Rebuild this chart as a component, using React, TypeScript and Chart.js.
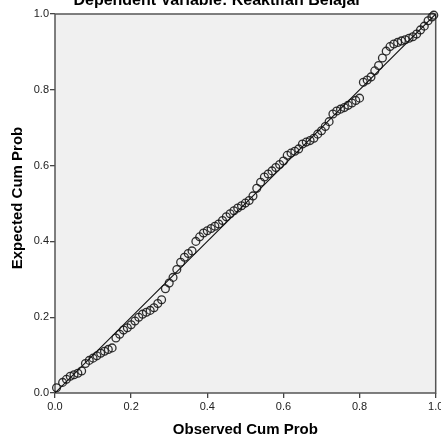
import React, { useEffect, useRef } from "react";
import { Chart, registerables } from "chart.js";

Chart.register(...registerables);

const chartTitle = "Dependent Variable: Keaktifan Belajar";
const xAxisTitle = "Observed Cum Prob";
const yAxisTitle = "Expected Cum Prob";
const tickValues = [0, 0.2, 0.4, 0.6, 0.8, 1.0];

const observedCumProb = [
  0.004, 0.02, 0.03, 0.04, 0.05, 0.06, 0.07, 0.08, 0.09, 0.1,
  0.11, 0.12, 0.13, 0.14, 0.15, 0.16, 0.17, 0.18, 0.19, 0.2,
  0.21, 0.22, 0.23, 0.24, 0.25, 0.26, 0.27, 0.28, 0.29, 0.3,
  0.31, 0.32, 0.33, 0.34, 0.35, 0.36, 0.37, 0.38, 0.39, 0.4,
  0.41, 0.42, 0.43, 0.44, 0.45, 0.46, 0.47, 0.48, 0.49, 0.5,
  0.51, 0.52, 0.53, 0.54, 0.55, 0.56, 0.57, 0.58, 0.59, 0.6,
  0.61, 0.62, 0.63, 0.64, 0.65, 0.66, 0.67, 0.68, 0.69, 0.7,
  0.71, 0.72, 0.73, 0.74, 0.75, 0.76, 0.77, 0.78, 0.79, 0.8,
  0.81, 0.82, 0.83, 0.84, 0.85, 0.86, 0.87, 0.88, 0.89, 0.9,
  0.91, 0.92, 0.93, 0.94, 0.95, 0.96, 0.97, 0.98, 0.99, 0.995,
];

const expectedCumProb = [
  0.014, 0.028, 0.036, 0.044, 0.048, 0.052, 0.058, 0.078, 0.086, 0.092,
  0.098, 0.105, 0.11, 0.115, 0.119, 0.145, 0.155, 0.166, 0.172, 0.18,
  0.19, 0.2, 0.208, 0.213, 0.218, 0.225, 0.236, 0.246, 0.275, 0.29,
  0.305, 0.326, 0.345, 0.358, 0.368, 0.375, 0.4, 0.412, 0.422, 0.428,
  0.434, 0.44, 0.446, 0.455, 0.465, 0.473, 0.481, 0.488, 0.494, 0.501,
  0.508, 0.52, 0.54, 0.556, 0.57, 0.578, 0.586, 0.595, 0.603, 0.612,
  0.627, 0.633, 0.638, 0.644, 0.657, 0.662, 0.666, 0.672, 0.683, 0.692,
  0.703, 0.716, 0.736, 0.744, 0.749, 0.753, 0.759, 0.765, 0.772, 0.778,
  0.82, 0.826, 0.834, 0.85, 0.864, 0.884, 0.902, 0.914, 0.921, 0.925,
  0.929, 0.932, 0.936, 0.94, 0.947, 0.958, 0.968, 0.982, 0.992, 0.997,
];

const referenceLine = [0, 1];

const FONT = "'Liberation Sans', Arial, sans-serif";

const plotFramePlugin = {
  id: "plotFrame",
  beforeDraw(chart: any) {
    const { ctx, chartArea } = chart;
    ctx.save();
    ctx.fillStyle = "#f0f0f0";
    ctx.fillRect(chartArea.left, chartArea.top, chartArea.right - chartArea.left, chartArea.bottom - chartArea.top);
    ctx.restore();
  },
  beforeDatasetsDraw(chart: any) {
    const { ctx, chartArea } = chart;
    ctx.save();
    ctx.strokeStyle = "#555555";
    ctx.lineWidth = 1.5;
    ctx.strokeRect(chartArea.left, chartArea.top, chartArea.right - chartArea.left, chartArea.bottom - chartArea.top);
    ctx.restore();
  },
  afterDraw(chart: any) {
    const { ctx, chartArea } = chart;
    ctx.save();
    ctx.fillStyle = "#000";
    ctx.font = `bold 16px ${FONT}`;
    ctx.textAlign = "center";
    ctx.textBaseline = "alphabetic";
    ctx.fillText(chartTitle, chart.width / 2 - 3, 5);
    ctx.font = `bold 15px ${FONT}`;
    ctx.translate(17.5, 198);
    ctx.rotate(-Math.PI / 2);
    ctx.textBaseline = "middle";
    ctx.fillText(yAxisTitle, 0, 0);
    ctx.restore();
  },
};

export default function App() {
  const ref = useRef<HTMLCanvasElement | null>(null);

  useEffect(() => {
    if (!ref.current) return;
    const points = observedCumProb.map((x, i) => ({ x, y: expectedCumProb[i] }));
    const line = referenceLine.map((v) => ({ x: v, y: v }));
    const chart = new Chart(ref.current, {
      type: "scatter",
      data: {
        datasets: [
          {
            type: "line",
            data: line,
            borderColor: "#111",
            borderWidth: 1.1,
            pointRadius: 0,
            fill: false,
            order: 1,
          } as any,
          {
            data: points,
            pointRadius: 3.9,
            pointBorderWidth: 1.3,
            borderColor: "rgba(25,25,25,0.9)",
            backgroundColor: "rgba(0,0,0,0)",
            clip: false,
            order: 2,
          } as any,
        ],
      },
      options: {
        animation: false,
        responsive: false,
        layout: { padding: { top: 14, right: 5, left: 0, bottom: 0 } },
        plugins: {
          legend: { display: false },
          tooltip: { enabled: false },
        },
        scales: {
          x: {
            type: "linear",
            min: 0,
            max: 1,
            afterBuildTicks: (s: any) => {
              s.ticks = tickValues.map((v) => ({ value: v }));
            },
            afterFit: (s: any) => {
              s.height = 48;
              s.paddingLeft = 0;
              s.paddingRight = 0;
            },
            grid: { display: true, drawOnChartArea: false, drawTicks: true, tickLength: 5, color: "#444", lineWidth: 1.3 },
            border: { display: false },
            ticks: {
              color: "#222",
              font: { family: FONT, size: 11 },
              padding: 2,
              maxRotation: 0,
              callback: (v: any) => Number(v).toFixed(1),
            },
            title: {
              display: true,
              text: xAxisTitle,
              color: "#000",
              font: { family: FONT, size: 15, weight: "bold" },
              padding: { top: 0, bottom: 2 },
            },
          },
          y: {
            type: "linear",
            min: 0,
            max: 1,
            afterBuildTicks: (s: any) => {
              s.ticks = tickValues.map((v) => ({ value: v }));
            },
            afterFit: (s: any) => {
              s.width = 55;
              s.paddingTop = 0;
              s.paddingBottom = 0;
            },
            grid: { display: true, drawOnChartArea: false, drawTicks: true, tickLength: 5, color: "#444", lineWidth: 1.3 },
            border: { display: false },
            ticks: {
              color: "#222",
              font: { family: FONT, size: 11 },
              padding: 1,
              callback: (v: any) => Number(v).toFixed(1),
            },
            title: { display: false },
          },
        },
      },
      plugins: [plotFramePlugin],
    });
    return () => chart.destroy();
  }, []);

  return (
    <div style={{ position: "fixed", left: 0, top: 0, width: 441, height: 441, background: "#fff" }}>
      <canvas ref={ref} width={441} height={441} style={{ width: 441, height: 441 }} />
    </div>
  );
}
